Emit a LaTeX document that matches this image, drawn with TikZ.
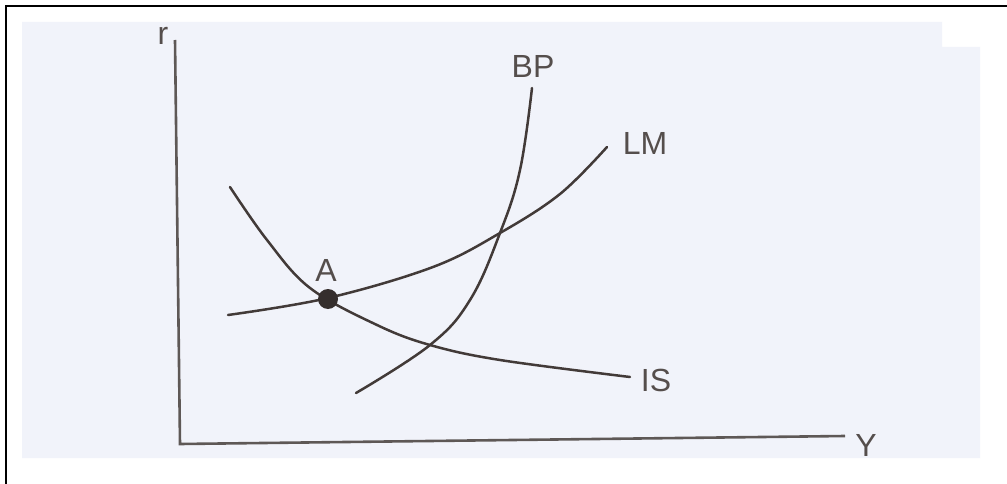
\documentclass[tikz,border=0pt]{standalone}
\usepackage{fontspec}
\setmainfont{Liberation Sans}
\definecolor{scanbg}{RGB}{241,243,250}
\definecolor{ink}{RGB}{66,58,56}
\begin{document}
\begin{tikzpicture}[x=1pt,y=-1pt,
  curve/.style={draw=ink,line width=2.5pt,line cap=round},
  axis/.style={draw=ink!85,line width=2.6pt},
  lbl/.style={inner sep=0pt,text=ink!90,font=\fontsize{32}{32}\selectfont}]
\useasboundingbox (0,0) rectangle (1007,484);
\fill[white] (0,0) rectangle (1007,484);
% frame
\draw[black,line width=2pt] (1007,6) -- (6,6) -- (6,484);
% scanned area
\fill[scanbg] (22,22) -- (942,22) -- (942,47) -- (980,47) -- (980,458) -- (22,458) -- cycle;
% axes
\coordinate (otop) at (175,40);
\coordinate (o) at (180,444);
\coordinate (xend) at (845,436);
\draw[axis] (otop) -- (o) -- (xend);
% IS
\draw[curve] plot[smooth,tension=0.6] coordinates {(230,187) (267,240) (310,288) (377,325) (430,345) (500,360) (630,377)};
% LM
\draw[curve] plot[smooth,tension=0.6] coordinates {(228,315) (328,298) (433,267) (500,233) (560,194) (607,147)};
% BP
\draw[curve] plot[smooth,tension=0.65] coordinates {(356,393) (430,345) (470,300) (500,233) (520,170) (532,88)};
% point A
\fill[ink!80!black] (328,299) circle (10);
% labels
\node[lbl] (r) at (163,36) {r};
\node[lbl] (bp) at (533,66) {BP};
\node[lbl] (lm) at (645,143) {LM};
\node[lbl] (is) at (656,380) {IS};
\node[lbl] (a) at (326,270) {A};
\begin{scope}
\clip (22,22) rectangle (980,458);
\node[lbl] (y) at (866,445) {Y};
\end{scope}
\end{tikzpicture}
\end{document}
